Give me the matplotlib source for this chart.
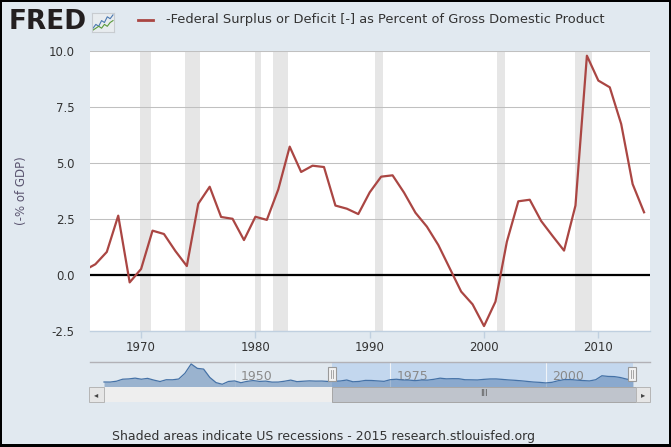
import numpy as np
import matplotlib.pyplot as plt
from matplotlib.patches import Rectangle

# annual values, -% of GDP (deficit positive)
years = list(range(1965, 2015))
deficit = [0.2, 0.48, 1.03, 2.65, -0.33, 0.27, 1.98, 1.83, 1.07, 0.40,
           3.18, 3.94, 2.59, 2.51, 1.56, 2.60, 2.46, 3.82, 5.73, 4.60,
           4.88, 4.82, 3.10, 2.96, 2.72, 3.69, 4.39, 4.45, 3.68, 2.78,
           2.16, 1.34, 0.30, -0.74, -1.31, -2.28, -1.19, 1.49, 3.29, 3.36,
           2.41, 1.74, 1.09, 3.10, 9.79, 8.68, 8.38, 6.74, 4.06, 2.80]

# earlier history, only seen in the navigator strip
early_years = list(range(1929, 1965))
early_deficit = [-0.7, -0.8, 0.6, 4.0, 4.5, 5.8, 4.0, 5.4, 2.5, 0.1, 3.1,
                 3.0, 4.3, 13.9, 29.6, 22.2, 21.0, 7.0, -1.7, -4.5, 0.2,
                 1.1, -1.9, 0.4, 1.7, 0.3, 0.8, -0.9, -0.8, 0.6, 2.5,
                 -0.1, 0.6, 1.2, 0.8, 0.9]

# recession start/end (fractional years)
rec_start = [1969.92, 1973.83, 1980.0, 1981.5, 1990.5, 2001.17, 2007.92]
rec_end = [1970.83, 1975.17, 1980.5, 1982.83, 1991.17, 2001.83, 2009.42]

yticks = [-2.5, 0.0, 2.5, 5.0, 7.5, 10.0]
xticks = [1970, 1980, 1990, 2000, 2010]
nav_labels = [1950, 1975, 2000]

BG = '#e1e9f0'
RED = '#aa4643'
TXT = '#333333'
W, H = 671, 447


def fx(px):
    return px / W


def fy(py):
    return 1 - py / H


fig = plt.figure(figsize=(6.71, 4.47), dpi=100, facecolor=BG)

# ---- main chart
ax = fig.add_axes([fx(90), fy(331), fx(560), 280 / H])
ax.set_facecolor('white')
for s in ['top', 'left', 'right']:
    ax.spines[s].set_visible(False)
ax.spines['bottom'].set_color('#c0d0e0')
ax.spines['bottom'].set_linewidth(1)

for a, b in zip(rec_start, rec_end):
    ax.axvspan(a, b, color='#e6e6e6', lw=0, zorder=0)

ax.set_yticks(yticks)
ax.set_yticklabels([f'{v:.1f}' for v in yticks])
ax.grid(axis='y', color='#c0c0c0', lw=0.75, zorder=1)
ax.set_axisbelow(True)
ax.axhline(0, color='black', lw=1.6, zorder=2)
ax.plot(years, deficit, color=RED, lw=1.6, zorder=3, clip_on=True)

ax.set_xlim(1965.53, 2014.52)
ax.set_ylim(-2.5, 10.0)
ax.set_xticks(xticks)
ax.tick_params(axis='y', length=0, pad=11, labelsize=8.5, labelcolor=TXT)
ax.tick_params(axis='x', length=5, width=1, color='#c0d0e0', pad=2.5,
               labelsize=8.5, labelcolor=TXT)
ax.set_ylabel('(-% of GDP)', fontsize=8.5, color='#5a5470', labelpad=15)

# ---- header: logo and legend
fig.text(fx(9), fy(22), 'FRED', fontsize=19, fontweight='bold',
         color='#231f20', va='center', ha='left')
icon = fig.add_axes([fx(92), fy(32), fx(22), 19 / H])
icon.set_facecolor('#e8ecef')
for s in icon.spines.values():
    s.set_color('#c8ccd0')
icon_blue = [1, 3, 2, 5, 4, 7, 6, 8]
icon_green = [0, 1, 2, 1, 3, 2, 4, 5]
icon.plot(icon_blue, color='#4a78b0', lw=0.8)
icon.plot(icon_green, color='#5a9a3a', lw=0.8)
icon.set_xticks([])
icon.set_yticks([])
icon.set_ylim(-1, 9)

fig.add_artist(plt.Line2D([fx(138), fx(153)], [fy(20), fy(20)],
                          color=RED, lw=2))
fig.text(fx(166), fy(20),
         '-Federal Surplus or Deficit [-] as Percent of Gross Domestic Product',
         fontsize=9.4, color=TXT, va='center', ha='left')

# ---- navigator
nav_x = early_years + years
nav_y = early_deficit + deficit
nav = fig.add_axes([fx(90), fy(386.7), fx(560), 24.4 / H])
nav.set_facecolor(BG)
for s in nav.spines.values():
    s.set_visible(False)
nav.set_xlim(1926.75, 2016.73)
nav.set_ylim(-8.6, 32.4)
nav.axhline(32.4, color='#b2b1b6', lw=1, clip_on=False)
nav.axvspan(1965.64, 2014, color='#c3d7ee', lw=0, zorder=0)
for yr in nav_labels:
    nav.axvline(yr, color='#f0f4f8', lw=0.8, zorder=0.5)
    nav.text(yr + 1, -2.5, str(yr), fontsize=9, color='#8a8a8a',
             va='bottom', ha='left', zorder=0.6)
nav.fill_between(nav_x, nav_y, -8.6, color='#4572a7', alpha=0.45, lw=0,
                 zorder=1)
nav.plot(nav_x, nav_y, color='#4572a7', lw=0.9, zorder=2)
nav.set_xticks([])
nav.set_yticks([])
for hx in [332, 632]:
    fig.patches.append(Rectangle((fx(hx - 4), fy(381)), fx(8), 14 / H,
                                 transform=fig.transFigure,
                                 facecolor='#f2f2f2', edgecolor='#999999',
                                 lw=0.8, zorder=5))
    for dx in (-1, 1):
        fig.add_artist(plt.Line2D([fx(hx + dx), fx(hx + dx)],
                                  [fy(378), fy(370)], color='#999999',
                                  lw=0.6, zorder=6))

# scrollbar
fig.patches.append(Rectangle((fx(104), fy(401.7)), fx(228), 15 / H,
                             transform=fig.transFigure,
                             facecolor='#eeeeee', lw=0))
fig.patches.append(Rectangle((fx(332), fy(401.7)), fx(303.7), 15 / H,
                             transform=fig.transFigure,
                             facecolor='#bfc4cc', edgecolor='#a6a6a6',
                             lw=0.7))
fig.text(fx(483.5), fy(394), 'III', fontsize=6, color='#555555',
         ha='center', va='center')
for bx, arrow in [(89.3, '◂'), (635.7, '▸')]:
    fig.patches.append(Rectangle((fx(bx), fy(401.7)), fx(14.5), 15 / H,
                                 transform=fig.transFigure,
                                 facecolor='#e6e6e6', edgecolor='#b5b5b5',
                                 lw=0.7))
    fig.text(fx(bx + 7.2), fy(394.5), arrow, fontsize=6, color='#444444',
             ha='center', va='center')

# ---- footer
fig.text(fx(112), fy(436.5),
         'Shaded areas indicate US recessions - 2015 research.stlouisfed.org',
         fontsize=9.0, color=TXT, va='center', ha='left')

# dark frame round the picture
for x0, y0, w, h in [(0, 0, 2, H), (0, H - 2, W, 2), (W - 2, 0, 2, H),
                     (0, 0, W, 3)]:
    fig.patches.append(Rectangle((x0 / W, y0 / H), w / W, h / H,
                                 transform=fig.transFigure,
                                 facecolor='black', lw=0, zorder=10))

fig.savefig('out.png', dpi=100, facecolor=BG)
